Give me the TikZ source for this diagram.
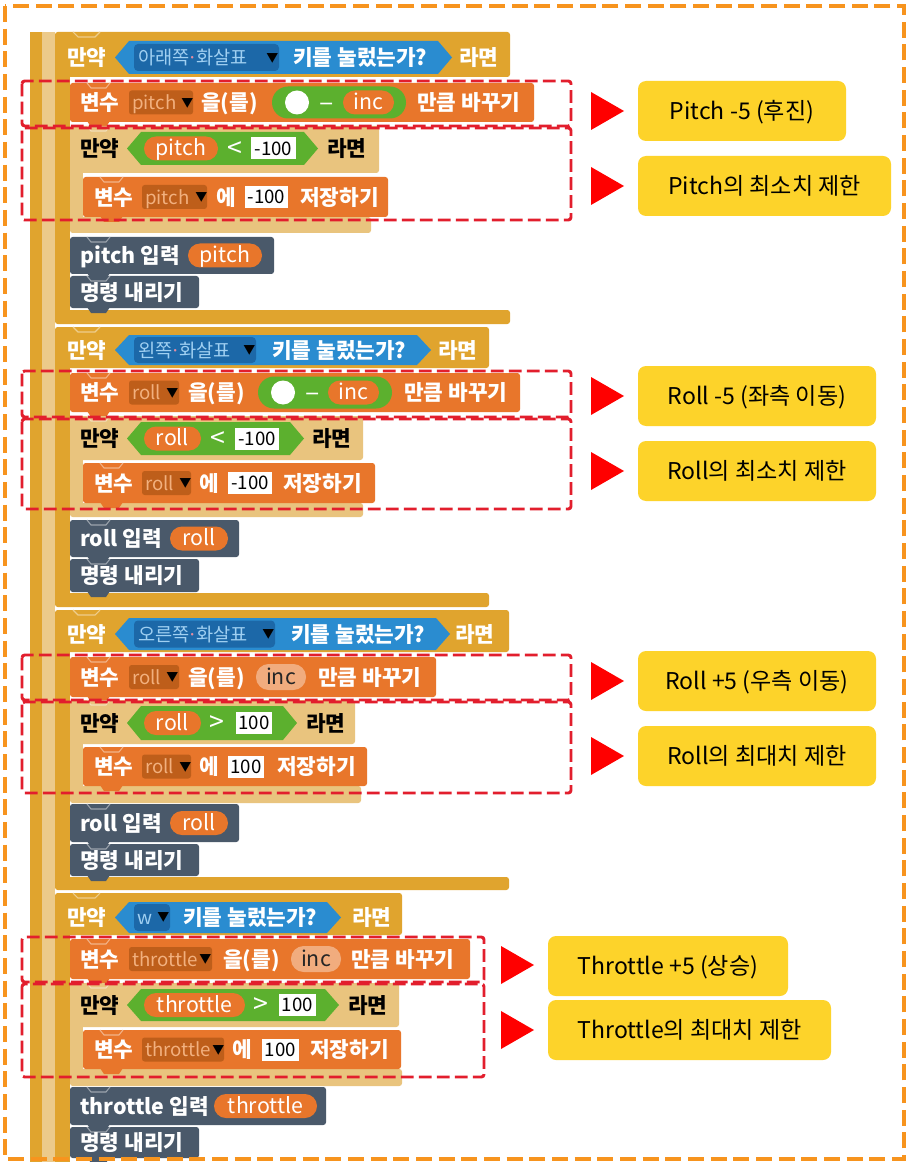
\documentclass[tikz,border=0pt]{standalone}
\usepackage{fontspec}
\newfontfamily\kr{Noto Sans CJK KR}
\definecolor{gold}{RGB}{224,164,46}
\definecolor{stripe}{RGB}{236,202,138}
\definecolor{tanb}{RGB}{233,196,126}
\definecolor{orng}{RGB}{232,118,43}
\definecolor{ddor}{RGB}{190,94,26}
\definecolor{ddortxt}{RGB}{242,176,126}
\definecolor{blu}{RGB}{42,140,208}
\definecolor{ddblu}{RGB}{28,104,168}
\definecolor{ddblutxt}{RGB}{160,208,242}
\definecolor{dotpink}{RGB}{230,140,160}
\definecolor{grn}{RGB}{92,176,46}
\definecolor{slate}{RGB}{74,89,106}
\definecolor{peach}{RGB}{241,172,126}
\definecolor{redd}{RGB}{226,30,45}
\definecolor{tri}{RGB}{255,0,0}
\definecolor{yel}{RGB}{253,211,42}
\definecolor{obord}{RGB}{247,148,30}
\tikzset{
  base/.style={inner sep=0pt},
  wt/.style={base, anchor=west, text=white, text height=12.4pt, text depth=0.2pt, font=\kr\bfseries\fontsize{16}{18}\selectfont},
  bt/.style={wt, text=black},
  ddt/.style={base, anchor=west, text=ddortxt, text height=10.8pt, text depth=0.2pt, font=\kr\fontsize{14}{16}\selectfont},
  bdt/.style={ddt, text=ddblutxt},
  arw/.style={base, anchor=west, text=black, text height=7.4pt, text depth=0.2pt, font=\kr\fontsize{9}{10}\selectfont},
  pt/.style={base, anchor=center, text=white, text height=11.4pt, text depth=0.2pt, font=\kr\fontsize{16}{18}\selectfont},
  op/.style={base, anchor=center, text=white, text height=13pt, text depth=0.2pt, font=\kr\fontsize{20}{22}\selectfont},
  vt/.style={base, anchor=center, text=black, text height=10.2pt, text depth=0.2pt, font=\kr\fontsize{14}{16}\selectfont},
  lab/.style={base, anchor=center, text=black, text height=13.4pt, text depth=0.2pt, font=\kr\fontsize{17.3}{19}\selectfont},
  reddash/.style={draw=redd, line width=2.2pt, dash pattern=on 9.5pt off 4pt, rounded corners=2pt},
  ybox/.style={fill=yel, rounded corners=6pt},
}
\newcommand\myblk[5]{%
  \fill[#5, rounded corners=2pt] (#1,#2) rectangle (#3,#4);
  \fill[#5] ({#1+17},{#4-1}) -- ({#1+21},{#4+5}) -- ({#1+36},{#4+5}) -- ({#1+40},{#4-1}) -- cycle;
  \draw[#5!55!white, line width=0.8pt] ({#1+17},#2) -- ({#1+21},{#2+5}) -- ({#1+36},{#2+5}) -- ({#1+40},#2);
}
\newcommand\myhex[5]{%
  \fill[#5] (#1,{(#2+#4)/2}) -- ({#1+14},#2) -- ({#3-14},#2) -- (#3,{(#2+#4)/2}) -- ({#3-14},#4) -- ({#1+14},#4) -- cycle;
}
\newcommand\mytri[3]{%
  \fill[tri] (#1,{#3-19}) -- (#2,#3) -- (#1,{#3+19}) -- cycle;
}
\newcommand\bdot{\hbox to 5pt{\hss\textcolor{dotpink}{·}\hss}}
\begin{document}
\begin{tikzpicture}[x=0.75pt,y=-0.75pt]
\fill[white] (0,0) rectangle (909,1162);
\useasboundingbox (0,0) rectangle (909,1162);

% outer loop arm
\fill[gold] (30,32) rectangle (42,1162);
\fill[stripe] (42,32) rectangle (55,1162);

% ================= IF 1 =================
\fill[gold, rounded corners=2pt] (55,32) rectangle (510,77);
\draw[gold!55!white, line width=0.8pt] (73,32) -- (78,37) -- (95,37) -- (100,32);
\fill[gold] (55,70) rectangle (70,315);
\fill[gold, rounded corners=2pt] (55,310) rectangle (510,324);
\myhex{115}{41}{452}{74}{blu}
\fill[ddblu, rounded corners=3pt] (134,44) rectangle (279,71);
\node[wt] (i1a) at (67,57.5) {만약};
\node[bdt] (i1b) at (138,57.5) {아래쪽\bdot 화살표};
\node[arw] (i1c) at (266,57.5) {▼};
\node[wt] (i1d) at (293,57.5) {키를 눌렀는가?};
\node[wt] (i1e) at (459,57.5) {라면};

\myblk{70}{83}{534}{122}{orng}
\fill[ddor, rounded corners=2pt] (129,90.5) rectangle (193,114.5);
\fill[grn, rounded corners=12pt] (272,86.5) rectangle (406,118.5);
\fill[white] (297,102.5) circle (9pt);
\fill[orng, rounded corners=9pt] (343,90.5) rectangle (394,114.5);
\node[wt] (c1a) at (80,102.5) {변수};
\node[ddt] (c1b) at (132,102.5) {pitch};
\node[arw] (c1c) at (181,102.5) {▼};
\node[wt] (c1d) at (201,102.5) {을(를)};
\node[op] (c1e) at (327,102.5) {–};
\node[pt] (c1f) at (368.5,102.5) {inc};
\node[wt] (c1g) at (417,102.5) {만큼 바꾸기};

\fill[tanb, rounded corners=2pt] (70,126) rectangle (379,173);
\fill[tanb] (70,168) rectangle (83,222);
\fill[tanb, rounded corners=2pt] (70,217) rectangle (371,233);
\draw[tanb!55!white, line width=0.8pt] (87,126) -- (91,131) -- (106,131) -- (110,126);
\myhex{127}{132}{318}{165}{grn}
\fill[orng, rounded corners=9pt] (144,136.5) rectangle (218,160.5);
\fill[white] (251,137.5) rectangle (296,159.5);
\node[bt] (f1a) at (80,148.5) {만약};
\node[pt] (f1b) at (181,148.5) {pitch};
\node[op] (f1c) at (235,148.5) {<};
\node[vt] (f1d) at (273.5,148.5) {-100};
\node[bt] (f1e) at (327,148.5) {라면};

\myblk{83}{177}{388}{217}{orng}
\fill[ddor, rounded corners=2pt] (142,185) rectangle (207,209);
\fill[white] (245,186) rectangle (288,208);
\node[wt] (s1a) at (94,197) {변수};
\node[ddt] (s1b) at (145,197) {pitch};
\node[arw] (s1c) at (195,197) {▼};
\node[wt] (s1d) at (216,197) {에};
\node[vt] (s1e) at (266.5,197) {-100};
\node[wt] (s1f) at (300,197) {저장하기};

\myblk{70}{237}{274}{274}{slate}
\fill[orng, rounded corners=9pt] (188,243.5) rectangle (262,267.5);
\node[wt] (p1a) at (80,255.5) {pitch 입력};
\node[pt] (p1b) at (225,255.5) {pitch};

\myblk{70}{276}{199}{308}{slate}
\node[wt] (m1) at (80,292) {명령 내리기};

% ================= IF 2 =================
\fill[gold, rounded corners=2pt] (55,327) rectangle (489,368);
\draw[gold!55!white, line width=0.8pt] (73,327) -- (78,332) -- (95,332) -- (100,327);
\fill[gold] (55,362) rectangle (70,598);
\fill[gold, rounded corners=2pt] (55,593) rectangle (489,607);
\myhex{115}{335}{431}{365}{blu}
\fill[ddblu, rounded corners=3pt] (134,337) rectangle (256,363);
\node[wt] (i2a) at (67,350) {만약};
\node[bdt] (i2b) at (138,350) {왼쪽\bdot 화살표};
\node[arw] (i2c) at (243,350) {▼};
\node[wt] (i2d) at (272,350) {키를 눌렀는가?};
\node[wt] (i2e) at (438,350) {라면};

\myblk{70}{373}{520}{412}{orng}
\fill[ddor, rounded corners=2pt] (129,380.5) rectangle (179,404.5);
\fill[grn, rounded corners=12pt] (258,376.5) rectangle (392,408.5);
\fill[white] (283,392.5) circle (9pt);
\fill[orng, rounded corners=9pt] (328,380.5) rectangle (379,404.5);
\node[wt] (c2a) at (80,392.5) {변수};
\node[ddt] (c2b) at (132,392.5) {roll};
\node[arw] (c2c) at (166,392.5) {▼};
\node[wt] (c2d) at (188,392.5) {을(를)};
\node[op] (c2e) at (313,392.5) {–};
\node[pt] (c2f) at (353.5,392.5) {inc};
\node[wt] (c2g) at (404,392.5) {만큼 바꾸기};

\fill[tanb, rounded corners=2pt] (70,416) rectangle (363,460);
\fill[tanb] (70,455) rectangle (83,507);
\fill[tanb, rounded corners=2pt] (70,503) rectangle (363,517);
\draw[tanb!55!white, line width=0.8pt] (87,416) -- (91,421) -- (106,421) -- (110,416);
\myhex{127}{422}{304}{455}{grn}
\fill[orng, rounded corners=9pt] (144,426.5) rectangle (201,450.5);
\fill[white] (235,427.5) rectangle (279,449.5);
\node[bt] (f2a) at (80,438.5) {만약};
\node[pt] (f2b) at (172.5,438.5) {roll};
\node[op] (f2c) at (218,438.5) {<};
\node[vt] (f2d) at (257,438.5) {-100};
\node[bt] (f2e) at (312,438.5) {라면};

\myblk{83}{463}{375}{503}{orng}
\fill[ddor, rounded corners=2pt] (142,471) rectangle (191,495);
\fill[white] (228,472) rectangle (272,494);
\node[wt] (s2a) at (94,483) {변수};
\node[ddt] (s2b) at (145,483) {roll};
\node[arw] (s2c) at (179,483) {▼};
\node[wt] (s2d) at (199,483) {에};
\node[vt] (s2e) at (250,483) {-100};
\node[wt] (s2f) at (283,483) {저장하기};

\myblk{70}{520}{239}{557}{slate}
\fill[orng, rounded corners=9pt] (170,526.5) rectangle (228,550.5);
\node[wt] (p2a) at (80,538.5) {roll 입력};
\node[pt] (p2b) at (199,538.5) {roll};

\myblk{70}{559}{199}{592}{slate}
\node[wt] (m2) at (80,575.5) {명령 내리기};

% ================= IF 3 =================
\fill[gold, rounded corners=2pt] (55,610) rectangle (509,652);
\draw[gold!55!white, line width=0.8pt] (73,610) -- (78,615) -- (95,615) -- (100,610);
\fill[gold] (55,645) rectangle (70,881);
\fill[gold, rounded corners=2pt] (55,877) rectangle (509,890);
\myhex{115}{618}{450}{650}{blu}
\fill[ddblu, rounded corners=3pt] (134,620.5) rectangle (275,647.5);
\node[wt] (i3a) at (67,634) {만약};
\node[bdt] (i3b) at (138,634) {오른쪽\bdot 화살표};
\node[arw] (i3c) at (262,634) {▼};
\node[wt] (i3d) at (291,634) {키를 눌렀는가?};
\node[wt] (i3e) at (455,634) {라면};

\myblk{70}{657}{436}{697}{orng}
\fill[ddor, rounded corners=2pt] (129,665) rectangle (179,689);
\fill[peach, rounded corners=9.5pt] (256,664) rectangle (306,690);
\node[wt] (c3a) at (80,677) {변수};
\node[ddt] (c3b) at (132,677) {roll};
\node[arw] (c3c) at (166,677) {▼};
\node[wt] (c3d) at (188,677) {을(를)};
\node[pt, text=black!85] (c3e) at (281,677) {inc};
\node[wt] (c3f) at (318,677) {만큼 바꾸기};

\fill[tanb, rounded corners=2pt] (70,700) rectangle (355,744);
\fill[tanb] (70,740) rectangle (83,790);
\fill[tanb, rounded corners=2pt] (70,786) rectangle (361,803);
\draw[tanb!55!white, line width=0.8pt] (87,700) -- (91,705) -- (106,705) -- (110,700);
\myhex{127}{706}{297}{740}{grn}
\fill[orng, rounded corners=9pt] (144,711) rectangle (201,735);
\fill[white] (236,712) rectangle (272,734);
\node[bt] (f3a) at (80,723) {만약};
\node[pt] (f3b) at (172.5,723) {roll};
\node[op] (f3c) at (217,723) {>};
\node[vt] (f3d) at (254,723) {100};
\node[bt] (f3e) at (306,723) {라면};

\myblk{83}{747}{367}{786}{orng}
\fill[ddor, rounded corners=2pt] (142,754.5) rectangle (191,778.5);
\fill[white] (228,755.5) rectangle (264,777.5);
\node[wt] (s3a) at (94,766.5) {변수};
\node[ddt] (s3b) at (145,766.5) {roll};
\node[arw] (s3c) at (179,766.5) {▼};
\node[wt] (s3d) at (199,766.5) {에};
\node[vt] (s3e) at (246,766.5) {100};
\node[wt] (s3f) at (277,766.5) {저장하기};

\myblk{70}{804}{239}{842}{slate}
\fill[orng, rounded corners=9pt] (170,811) rectangle (228,835);
\node[wt] (p3a) at (80,823) {roll 입력};
\node[pt] (p3b) at (199,823) {roll};

\myblk{70}{844}{199}{876}{slate}
\node[wt] (m3) at (80,860) {명령 내리기};

% ================= IF 4 =================
\fill[gold, rounded corners=2pt] (55,893) rectangle (402,935);
\draw[gold!55!white, line width=0.8pt] (73,893) -- (78,898) -- (95,898) -- (100,893);
\fill[gold] (55,930) rectangle (70,1162);
\myhex{115}{902}{341}{933}{blu}
\fill[ddblu, rounded corners=3pt] (134,904) rectangle (170,931);
\node[wt] (i4a) at (67,917) {만약};
\node[bdt] (i4b) at (137,917) {w};
\node[arw] (i4c) at (157,917) {▼};
\node[wt] (i4d) at (183,917) {키를 눌렀는가?};
\node[wt] (i4e) at (352,917) {라면};

\myblk{70}{939}{470}{979}{orng}
\fill[ddor, rounded corners=2pt] (129,947) rectangle (212,971);
\fill[peach, rounded corners=9.5pt] (291,946) rectangle (341,972);
\node[wt] (c4a) at (80,959) {변수};
\node[ddt] (c4b) at (132,959) {throttle};
\node[arw] (c4c) at (199,959) {▼};
\node[wt] (c4d) at (223,959) {을(를)};
\node[pt, text=black!85] (c4e) at (316,959) {inc};
\node[wt] (c4f) at (351,959) {만큼 바꾸기};

\fill[tanb, rounded corners=2pt] (70,983) rectangle (399,1027);
\fill[tanb] (70,1022) rectangle (83,1073);
\fill[tanb, rounded corners=2pt] (70,1069) rectangle (402,1086);
\draw[tanb!55!white, line width=0.8pt] (87,983) -- (91,988) -- (106,988) -- (110,983);
\myhex{127}{989}{339}{1021}{grn}
\fill[orng, rounded corners=9pt] (144,993) rectangle (245,1017);
\fill[white] (279,994) rectangle (316,1016);
\node[bt] (f4a) at (80,1005) {만약};
\node[pt] (f4b) at (194.5,1005) {throttle};
\node[op] (f4c) at (261,1005) {>};
\node[vt] (f4d) at (297.5,1005) {100};
\node[bt] (f4e) at (348,1005) {라면};

\myblk{83}{1030}{401}{1069}{orng}
\fill[ddor, rounded corners=2pt] (142,1037.5) rectangle (224,1061.5);
\fill[white] (262,1038.5) rectangle (299,1060.5);
\node[wt] (s4a) at (94,1049.5) {변수};
\node[ddt] (s4b) at (145,1049.5) {throttle};
\node[arw] (s4c) at (212,1049.5) {▼};
\node[wt] (s4d) at (232,1049.5) {에};
\node[vt] (s4e) at (280.5,1049.5) {100};
\node[wt] (s4f) at (310,1049.5) {저장하기};

\myblk{70}{1087}{326}{1125}{slate}
\fill[orng, rounded corners=9pt] (214,1094) rectangle (317,1118);
\node[wt] (p4a) at (80,1106) {throttle 입력};
\node[pt] (p4b) at (265.5,1106) {throttle};

\myblk{70}{1127}{199}{1158}{slate}
\node[wt] (m4) at (80,1142.5) {명령 내리기};

% ================= red dashed boxes =================
\draw[reddash] (22,81) rectangle (571,126);
\draw[reddash] (22,128) rectangle (571,220);
\draw[reddash] (22,371) rectangle (571,417);
\draw[reddash] (22,419) rectangle (571,509);
\draw[reddash] (22,655) rectangle (571,700);
\draw[reddash] (22,702) rectangle (571,793);
\draw[reddash] (22,937) rectangle (484,982);
\draw[reddash] (22,984) rectangle (484,1077);

% ================= annotations =================
\mytri{591}{624}{111}
\mytri{591}{624}{186}
\mytri{591}{624}{396}
\mytri{591}{624}{471}
\mytri{591}{624}{681}
\mytri{591}{624}{756}
\mytri{501}{534}{965}
\mytri{501}{534}{1030}

\fill[ybox] (638,81) rectangle (846,141);
\node[lab] (y1) at (742,111) {Pitch -5 (후진)};
\fill[ybox] (638,156) rectangle (891,216);
\node[lab] (y2) at (764.5,186) {Pitch의 최소치 제한};
\fill[ybox] (638,366) rectangle (876,426);
\node[lab] (y3) at (757,396) {Roll -5 (좌측 이동)};
\fill[ybox] (638,441) rectangle (876,501);
\node[lab] (y4) at (757,471) {Roll의 최소치 제한};
\fill[ybox] (638,651) rectangle (876,711);
\node[lab] (y5) at (757,681) {Roll +5 (우측 이동)};
\fill[ybox] (638,726) rectangle (876,786);
\node[lab] (y6) at (757,756) {Roll의 최대치 제한};
\fill[ybox] (548,936) rectangle (788,996);
\node[lab] (y7) at (668,966) {Throttle +5 (상승)};
\fill[ybox] (548,1000) rectangle (831,1060);
\node[lab] (y8) at (689.5,1030) {Throttle의 최대치 제한};

% outer orange dashed border
\draw[obord, line width=2.8pt, dash pattern=on 12pt off 5pt] (5,6) rectangle (904,1159);
\end{tikzpicture}
\end{document}
